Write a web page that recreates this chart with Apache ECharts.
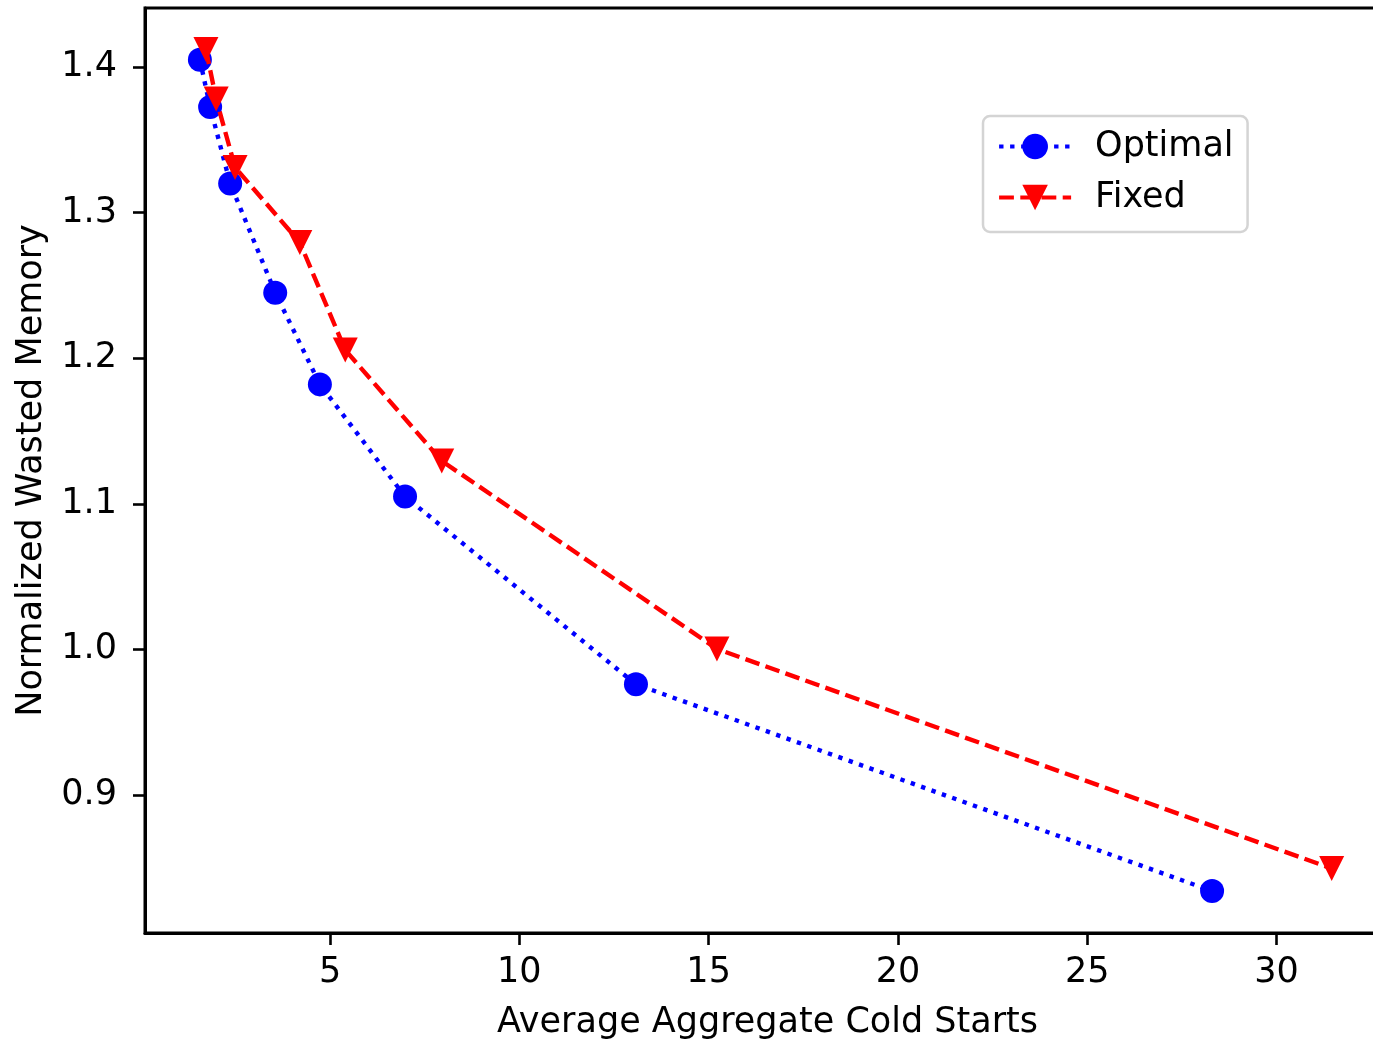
<!DOCTYPE html>
<html>
<head>
<meta charset="utf-8">
<script src="https://cdn.jsdelivr.net/npm/echarts@6/dist/echarts.min.js"></script>
<style>
  html, body { margin: 0; padding: 0; background: #fff; }
  #chart { width: 1373px; height: 1040px; }
</style>
</head>
<body>
<div id="chart"></div>
<script>
// Cold starts vs. wasted memory for two keep-alive policies
const optimalColdStarts = [1.56, 1.83, 2.36, 3.55, 4.73, 6.98, 13.08, 28.30];
const optimalWasted     = [1.405, 1.3725, 1.320, 1.245, 1.182, 1.105, 0.976, 0.834];
const fixedColdStarts   = [1.72, 1.99, 2.49, 4.20, 5.40, 7.95, 15.22, 31.46];
const fixedWasted       = [1.412, 1.378, 1.331, 1.2795, 1.2056, 1.1294, 1.0003, 0.8495];
const xTicks = [5, 10, 15, 20, 25, 30];
const yTicks = [0.9, 1.0, 1.1, 1.2, 1.3, 1.4];

const FONT = 'DejaVu Sans';
const FS = 35;

const pairs = (xs, ys) => xs.map((x, i) => [x, ys[i]]);

const chart = echarts.init(document.getElementById('chart'), null, { renderer: 'canvas' });

const axisCommon = {
  type: 'value',
  axisLine: { show: true, lineStyle: { color: '#000', width: 3 } },
  axisTick: { show: true, inside: false, length: 12, lineStyle: { color: '#000', width: 2.6 } },
  splitLine: { show: false },
  nameLocation: 'middle',
  nameTextStyle: { fontFamily: FONT, fontSize: FS, color: '#000' }
};

chart.setOption({
  animation: false,
  backgroundColor: '#fff',
  grid: {
    left: 145, top: 8, width: 1245, height: 925,
    outerBoundsMode: 'none', containLabel: false,
    show: true, borderColor: '#000', borderWidth: 3, backgroundColor: 'transparent'
  },
  xAxis: Object.assign({}, axisCommon, {
    min: 0.11, max: 33.0,
    name: 'Average Aggregate Cold Starts',
    nameGap: 72,
    axisTick: Object.assign({}, axisCommon.axisTick, { customValues: xTicks }),
    axisLabel: {
      customValues: xTicks, margin: 22,
      fontFamily: FONT, fontSize: FS, color: '#000',
      formatter: v => String(v)
    }
  }),
  yAxis: Object.assign({}, axisCommon, {
    min: 0.8052, max: 1.4405,
    name: 'Normalized Wasted Memory',
    nameGap: 96,
    axisTick: Object.assign({}, axisCommon.axisTick, { customValues: yTicks }),
    axisLabel: {
      customValues: yTicks, margin: 28,
      fontFamily: FONT, fontSize: FS, color: '#000',
      formatter: v => v.toFixed(1)
    }
  }),
  legend: {
    orient: 'vertical',
    left: 983, top: 116,
    padding: [13, 14, 17, 14],
    itemWidth: 72, itemHeight: 32, itemGap: 16,
    backgroundColor: '#fff',
    borderColor: '#d4d4d4', borderWidth: 2.5, borderRadius: 7,
    lineStyle: { width: 4.2 },
    textStyle: { fontFamily: FONT, fontSize: FS, color: '#000', lineHeight: 34, padding: [0, 0, 0, 19] },
    data: ['Optimal', 'Fixed']
  },
  series: [
    {
      name: 'Optimal',
      type: 'line',
      data: pairs(optimalColdStarts, optimalWasted),
      symbol: 'circle', symbolSize: 24,
      itemStyle: { color: '#0000ff' },
      lineStyle: { color: '#0000ff', width: 4.4, type: [4.4, 6.6] },
      z: 2
    },
    {
      name: 'Fixed',
      type: 'line',
      data: pairs(fixedColdStarts, fixedWasted),
      symbol: 'triangle', symbolSize: 25, symbolRotate: 180,
      itemStyle: { color: '#ff0000' },
      lineStyle: { color: '#ff0000', width: 4.4, type: [14.8, 6.4] },
      z: 3
    }
  ]
});
</script>
</body>
</html>
